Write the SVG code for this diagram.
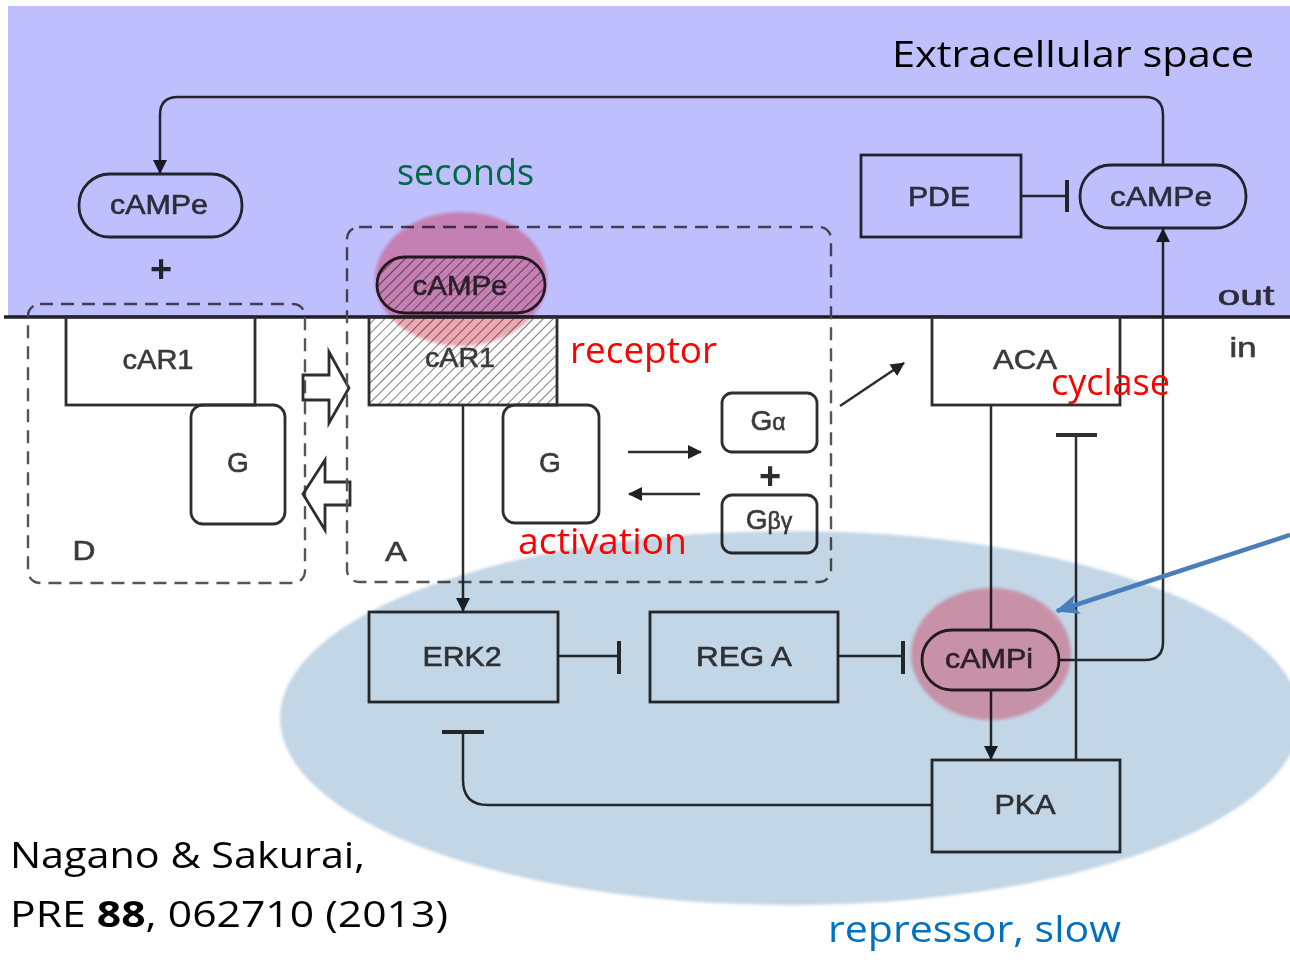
<svg xmlns="http://www.w3.org/2000/svg" width="1290" height="960" viewBox="0 0 1290 960">
  <defs>
    <style>
      .box { fill: none; stroke: #2e2e2e; stroke-width: 2.8; }
      .dash { fill: none; stroke: #555; stroke-width: 2.4; stroke-dasharray: 13 8; }
      .wire { fill: none; stroke: #2e2e2e; stroke-width: 2.5; }
      .bar { fill: none; stroke: #2e2e2e; stroke-width: 4; }
      .lbl { font-family: "Liberation Sans", Arial, sans-serif; font-size: 28px; fill: #3a3a3a; stroke: #3a3a3a; stroke-width: 0.6; text-anchor: middle; }
      .plus { font-family: "Liberation Sans", Arial, sans-serif; font-size: 38px; font-weight: bold; fill: #2e2e2e; text-anchor: middle; }
      .note { font-family: "Open Sans", "Noto Sans", sans-serif; font-size: 36px; }
      .diagram { mix-blend-mode: multiply; }
    </style>
    <pattern id="hatch" patternUnits="userSpaceOnUse" width="7" height="7" patternTransform="rotate(45)">
      <line x1="0" y1="0" x2="0" y2="7" stroke="#444" stroke-width="1.4"/>
    </pattern>
    <marker id="arr" viewBox="0 0 14 14" refX="13" refY="7" markerWidth="14" markerHeight="14" markerUnits="userSpaceOnUse" orient="auto">
      <path d="M0,0 L14,7 L0,14 z" fill="#222"/>
    </marker>
    <marker id="barr" viewBox="0 0 24 20" refX="22" refY="10" markerWidth="24" markerHeight="20" markerUnits="userSpaceOnUse" orient="auto">
      <path d="M0,0 L24,10 L0,20 L6,10 z" fill="#4a7ebb"/>
    </marker>
    <filter id="soft" x="-10%" y="-10%" width="120%" height="120%">
      <feGaussianBlur stdDeviation="1.5"/>
    </filter>
  </defs>

  <!-- backgrounds: extracellular space, slow repressor zone, fast highlights -->
  <rect x="0" y="0" width="1290" height="960" fill="#ffffff"/>
  <rect x="8" y="6" width="1282" height="311" fill="#bfbffe"/>
  <ellipse cx="790" cy="718" rx="510" ry="187" fill="#c2d6e6" filter="url(#soft)"/>
  <ellipse cx="461" cy="279" rx="86" ry="67" fill="#d0203a" fill-opacity="0.38" filter="url(#soft)"/>
  <ellipse cx="991" cy="654" rx="80" ry="66" fill="#d0203a" fill-opacity="0.36" filter="url(#soft)"/>

  <g class="diagram">
    <!-- membrane -->
    <line x1="4" y1="317" x2="1290" y2="317" stroke="#222" stroke-width="3.5"/>
    <text class="lbl" x="1246" y="305" textLength="57" lengthAdjust="spacingAndGlyphs">out</text>
    <text class="lbl" x="1243" y="357" textLength="27" lengthAdjust="spacingAndGlyphs">in</text>

    <!-- receptor state D (inactive) -->
    <g id="stateD">
      <rect class="dash" x="28" y="304" width="277" height="279" rx="12"/>
      <text class="lbl" x="84" y="560" textLength="23" lengthAdjust="spacingAndGlyphs">D</text>
    </g>
    <g id="cAR1-D">
      <rect class="box" x="66" y="317" width="189" height="88"/>
      <text class="lbl" x="158" y="369" textLength="71" lengthAdjust="spacingAndGlyphs">cAR1</text>
    </g>
    <g id="G-D">
      <rect class="box" x="191" y="405" width="94" height="119" rx="12"/>
      <text class="lbl" x="238" y="472">G</text>
    </g>

    <!-- D <-> A transition arrows -->
    <g id="transition">
      <path class="box" d="M303,375 H329 V352 L349,388 L329,423 V400 H303 z" fill="#fff"/>
      <path class="box" d="M350,482 H325 V460 L303,494 L325,530 V505 H350 z" fill="#fff"/>
    </g>

    <!-- receptor state A (active) -->
    <g id="stateA">
      <rect class="dash" x="347" y="227" width="484" height="355" rx="12"/>
      <text class="lbl" x="396" y="561" textLength="22" lengthAdjust="spacingAndGlyphs">A</text>
    </g>
    <g id="cAMPe-bound">
      <rect x="377" y="257" width="168" height="56" rx="28" fill="url(#hatch)" stroke="#2e2e2e" stroke-width="2.8"/>
      <text class="lbl" x="460" y="295" textLength="95" lengthAdjust="spacingAndGlyphs">cAMPe</text>
    </g>
    <g id="cAR1-A">
      <rect x="369" y="317" width="188" height="88" fill="url(#hatch)" stroke="#2e2e2e" stroke-width="2.8"/>
      <text class="lbl" x="460" y="367" textLength="70" lengthAdjust="spacingAndGlyphs">cAR1</text>
    </g>
    <g id="G-A">
      <rect class="box" x="503" y="405" width="96" height="118" rx="12"/>
      <text class="lbl" x="550" y="472">G</text>
    </g>
    <g id="Galpha">
      <rect class="box" x="722" y="393" width="95" height="59" rx="10"/>
      <text class="lbl" x="768" y="430">G<tspan font-size="23">α</tspan></text>
    </g>
    <text class="plus" x="770" y="489">+</text>
    <g id="Gbetagamma">
      <rect class="box" x="722" y="495" width="95" height="58" rx="10"/>
      <text class="lbl" x="769" y="529">G<tspan font-size="23">βγ</tspan></text>
    </g>

    <!-- extracellular species -->
    <g id="cAMPe-free">
      <rect class="box" x="79" y="174" width="163" height="63" rx="31"/>
      <text class="lbl" x="159" y="214" textLength="98" lengthAdjust="spacingAndGlyphs">cAMPe</text>
    </g>
    <text class="plus" x="161" y="282">+</text>
    <g id="PDE">
      <rect class="box" x="861" y="155" width="160" height="82"/>
      <text class="lbl" x="939" y="206" textLength="62" lengthAdjust="spacingAndGlyphs">PDE</text>
    </g>
    <g id="cAMPe-secreted">
      <rect class="box" x="1080" y="165" width="166" height="63" rx="31"/>
      <text class="lbl" x="1161" y="206" textLength="102" lengthAdjust="spacingAndGlyphs">cAMPe</text>
    </g>

    <!-- intracellular species -->
    <g id="ACA">
      <rect class="box" x="932" y="317" width="188" height="88"/>
      <text class="lbl" x="1025" y="369" textLength="64" lengthAdjust="spacingAndGlyphs">ACA</text>
    </g>
    <g id="ERK2">
      <rect class="box" x="369" y="612" width="189" height="90"/>
      <text class="lbl" x="462" y="666" textLength="79" lengthAdjust="spacingAndGlyphs">ERK2</text>
    </g>
    <g id="REGA">
      <rect class="box" x="650" y="612" width="188" height="90"/>
      <text class="lbl" x="744" y="666" textLength="96" lengthAdjust="spacingAndGlyphs">REG A</text>
    </g>
    <g id="cAMPi">
      <rect class="box" x="922" y="630" width="137" height="60" rx="30"/>
      <text class="lbl" x="989" y="668" textLength="88" lengthAdjust="spacingAndGlyphs">cAMPi</text>
    </g>
    <g id="PKA">
      <rect class="box" x="932" y="760" width="188" height="92"/>
      <text class="lbl" x="1025" y="814" textLength="61" lengthAdjust="spacingAndGlyphs">PKA</text>
    </g>

    <!-- connectors -->
    <g id="connectors">
      <!-- secreted cAMP diffuses back to the receptor side -->
      <path class="wire" d="M1163,165 V115 Q1163,97 1145,97 H178 Q160,97 160,115 V173" marker-end="url(#arr)"/>
      <!-- PDE degrades cAMPe -->
      <path class="wire" d="M1021,196 H1066"/>
      <path class="bar" d="M1067,180 V212"/>
      <!-- cAMPi exported -->
      <path class="wire" d="M1059,660 H1145 Q1163,660 1163,642 V229" marker-end="url(#arr)"/>
      <!-- G protein dissociation / reassociation -->
      <path class="wire" d="M628,452 H701" marker-end="url(#arr)"/>
      <path class="wire" d="M700,494 H629" marker-end="url(#arr)"/>
      <!-- activation of ACA -->
      <path class="wire" d="M840,406 L904,363" marker-end="url(#arr)"/>
      <!-- cAR1 to ERK2 -->
      <path class="wire" d="M463,405 V611" marker-end="url(#arr)"/>
      <!-- ERK2 inhibits REG A -->
      <path class="wire" d="M558,656 H617"/>
      <path class="bar" d="M619,641 V674"/>
      <!-- REG A inhibits cAMPi -->
      <path class="wire" d="M838,656 H901"/>
      <path class="bar" d="M903,641 V674"/>
      <!-- ACA produces cAMPi -->
      <path class="wire" d="M991,405 V630"/>
      <!-- cAMPi activates PKA -->
      <path class="wire" d="M991,690 V759" marker-end="url(#arr)"/>
      <!-- PKA inhibits ACA -->
      <path class="wire" d="M1076,760 V435"/>
      <path class="bar" d="M1056,435 H1097"/>
      <!-- PKA inhibits ERK2 -->
      <path class="wire" d="M932,805 H488 Q463,805 463,780 V733"/>
      <path class="bar" d="M442,732 H484"/>
    </g>
  </g>

  <!-- annotations -->
  <text class="note" x="892" y="67" fill="#000" textLength="362" lengthAdjust="spacingAndGlyphs">Extracellular space</text>
  <text class="note" x="397" y="185" fill="#006a44" textLength="137" lengthAdjust="spacingAndGlyphs">seconds</text>
  <text class="note" x="570" y="363" fill="#ff0000" textLength="147" lengthAdjust="spacingAndGlyphs">receptor</text>
  <text class="note" x="518" y="554" fill="#ff0000" textLength="169" lengthAdjust="spacingAndGlyphs">activation</text>
  <text class="note" x="1051" y="395" fill="#ff0000" textLength="119" lengthAdjust="spacingAndGlyphs">cyclase</text>
  <path d="M1290,535 L1057,611" stroke="#4a7ebb" stroke-width="4.5" fill="none" marker-end="url(#barr)"/>
  <text class="note" x="828" y="942" fill="#0070c0" textLength="293" lengthAdjust="spacingAndGlyphs">repressor, slow</text>
  <text class="note" x="10" y="868" font-size="40" fill="#000" textLength="355" lengthAdjust="spacingAndGlyphs">Nagano &amp; Sakurai,</text>
  <text class="note" x="10" y="927" font-size="40" fill="#000" textLength="438" lengthAdjust="spacingAndGlyphs">PRE <tspan font-weight="bold">88</tspan>, 062710 (2013)</text>
</svg>
